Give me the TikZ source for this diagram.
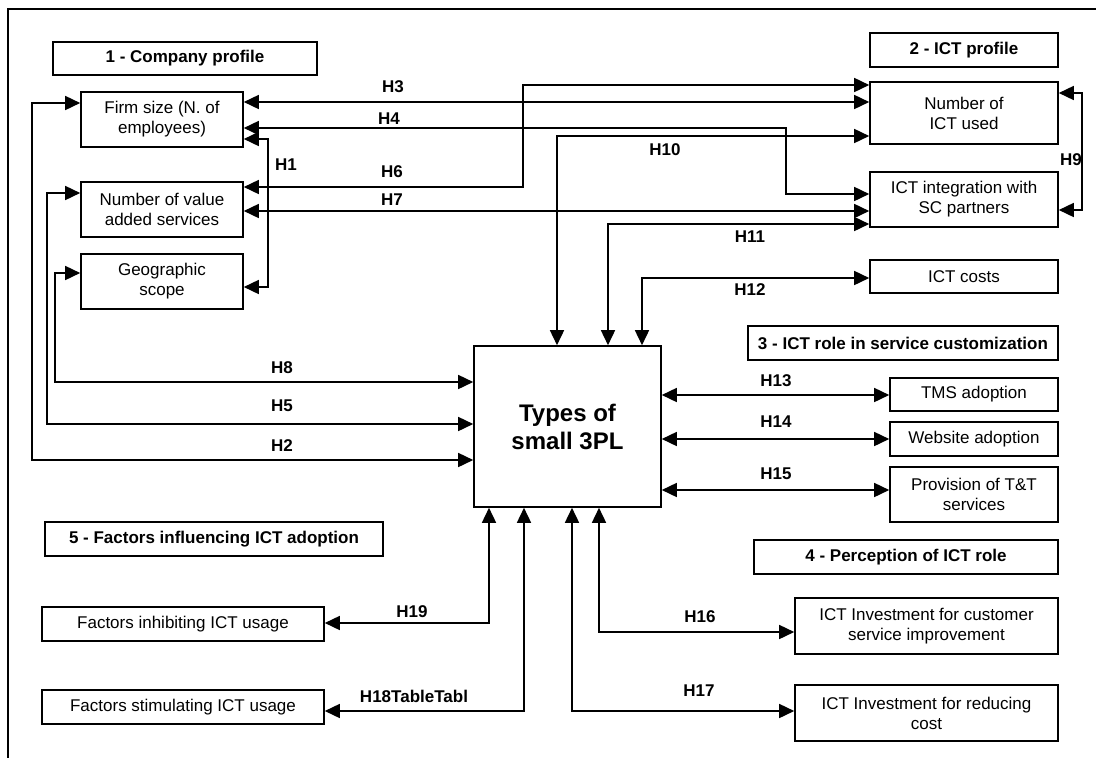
\documentclass[tikz,border=0pt]{standalone}
\usepackage{fontspec}
\setmainfont{Liberation Sans}
\usetikzlibrary{arrows.meta}

\begin{document}
\begin{tikzpicture}[x=1pt,y=-1pt,
  box/.style={draw,line width=1.6pt,align=center,inner sep=0pt,font=\fontsize{17}{20}\selectfont},
  head/.style={box,font=\fontsize{17}{20}\selectfont\bfseries},
  hlab/.style={inner sep=0pt,font=\fontsize{17}{20}\selectfont\bfseries},
  link/.style={line width=1.6pt,>={Triangle[length=15pt,width=14pt]},<->}]
  \useasboundingbox (0,0) rectangle (1096,758);
  \draw[line width=1.6pt] (1096,9) -- (8,9) -- (8,758);

  \node[head,minimum width=264pt,minimum height=33pt] (profile) at (185,58.5) {1 - Company profile};
  \node[box,minimum width=162pt,minimum height=55pt] (firm) at (162,119.5) {Firm size (N. of\\employees)};
  \node[box,minimum width=162pt,minimum height=55pt] (vas) at (162,209.5) {Number of value\\added services};
  \node[box,minimum width=162pt,minimum height=55pt] (geo) at (162,281.5) {Geographic\\scope};

  \node[head,minimum width=188pt,minimum height=34pt] (ictprofile) at (964,50) {2 - ICT profile};
  \node[box,minimum width=188pt,minimum height=62pt] (nict) at (964,113) {Number of\\ICT used};
  \node[box,minimum width=188pt,minimum height=55pt] (integ) at (964,199.5) {ICT integration with\\SC partners};
  \node[box,minimum width=188pt,minimum height=33pt] (costs) at (964,276.5) {ICT costs};

  \node[head,minimum width=310pt,minimum height=34pt] (role) at (903,343) {3 - ICT role in service customization};
  \node[box,minimum width=168pt,minimum height=33pt] (tms) at (974,394.5) {TMS adoption};
  \node[box,minimum width=168pt,minimum height=34pt] (web) at (974,439) {Website adoption};
  \node[box,minimum width=168pt,minimum height=55pt] (tt) at (974,494.5) {Provision of T\&T\\services};

  \node[head,minimum width=304pt,minimum height=34pt] (percep) at (906,557) {4 - Perception of ICT role};
  \node[box,minimum width=263pt,minimum height=56pt] (cust) at (926.5,626) {ICT Investment for customer\\service improvement};
  \node[box,minimum width=263pt,minimum height=56pt] (reduce) at (926.5,713) {ICT Investment for reducing\\cost};

  \node[head,minimum width=338pt,minimum height=34pt] (factors) at (214,539) {5 - Factors influencing ICT adoption};
  \node[box,minimum width=282pt,minimum height=34pt] (inhib) at (183,624) {Factors inhibiting ICT usage};
  \node[box,minimum width=282pt,minimum height=34pt] (stimul) at (183,707) {Factors stimulating ICT usage};

  \node[box,minimum width=187pt,minimum height=161pt,font=\fontsize{24}{28}\selectfont\bfseries] (types) at (567.5,426.5) {Types of\\small 3PL};

  \draw[link] (firm.east |- 0,139) -- (268,139) -- (268,287) -- (geo.east |- 0,287);
  \draw[link] (firm.west |- 0,103) -- (32,103) -- (32,460) -- (types.west |- 0,460);
  \draw[link] (firm.east |- 0,102) -- (nict.west |- 0,102);
  \draw[link] (firm.east |- 0,128) -- (786,128) -- (786,194) -- (integ.west |- 0,194);
  \draw[link] (vas.west |- 0,193) -- (47,193) -- (47,424) -- (types.west |- 0,424);
  \draw[link] (vas.east |- 0,187) -- (523,187) -- (523,85) -- (nict.west |- 0,85);
  \draw[link] (vas.east |- 0,211) -- (integ.west |- 0,211);
  \draw[link] (geo.west |- 0,273) -- (55,273) -- (55,382) -- (types.west |- 0,382);
  \draw[link] (nict.east |- 0,93) -- (1082,93) -- (1082,210) -- (integ.east |- 0,210);
  \draw[link] (types.north -| 557,0) -- (557,136) -- (nict.west |- 0,136);
  \draw[link] (types.north -| 608,0) -- (608,224) -- (integ.west |- 0,224);
  \draw[link] (types.north -| 642,0) -- (642,278) -- (costs.west |- 0,278);
  \draw[link] (types.east |- 0,395) -- (tms.west |- 0,395);
  \draw[link] (types.east |- 0,439) -- (web.west |- 0,439);
  \draw[link] (types.east |- 0,490) -- (tt.west |- 0,490);
  \draw[link] (types.south -| 599,0) -- (599,632) -- (cust.west |- 0,632);
  \draw[link] (types.south -| 572,0) -- (572,711) -- (reduce.west |- 0,711);
  \draw[link] (types.south -| 524,0) -- (524,711) -- (stimul.east |- 0,711);
  \draw[link] (types.south -| 489,0) -- (489,623) -- (inhib.east |- 0,623);

  \node[hlab] (h1) at (286,165) {H1};
  \node[hlab] (h2) at (282,446) {H2};
  \node[hlab] (h3) at (393,87) {H3};
  \node[hlab] (h4) at (389,119) {H4};
  \node[hlab] (h5) at (282,406) {H5};
  \node[hlab] (h6) at (392,172) {H6};
  \node[hlab] (h7) at (392,200) {H7};
  \node[hlab] (h8) at (282,368) {H8};
  \node[hlab] (h9) at (1071,160) {H9};
  \node[hlab] (h10) at (665,150) {H10};
  \node[hlab] (h11) at (750,237) {H11};
  \node[hlab] (h12) at (750,290) {H12};
  \node[hlab] (h13) at (776,381) {H13};
  \node[hlab] (h14) at (776,422) {H14};
  \node[hlab] (h15) at (776,474) {H15};
  \node[hlab] (h16) at (700,617) {H16};
  \node[hlab] (h17) at (699,691) {H17};
  \node[hlab] (h18) at (414,696) {H18TableTabl};
  \node[hlab] (h19) at (412,612) {H19};
\end{tikzpicture}
\end{document}
